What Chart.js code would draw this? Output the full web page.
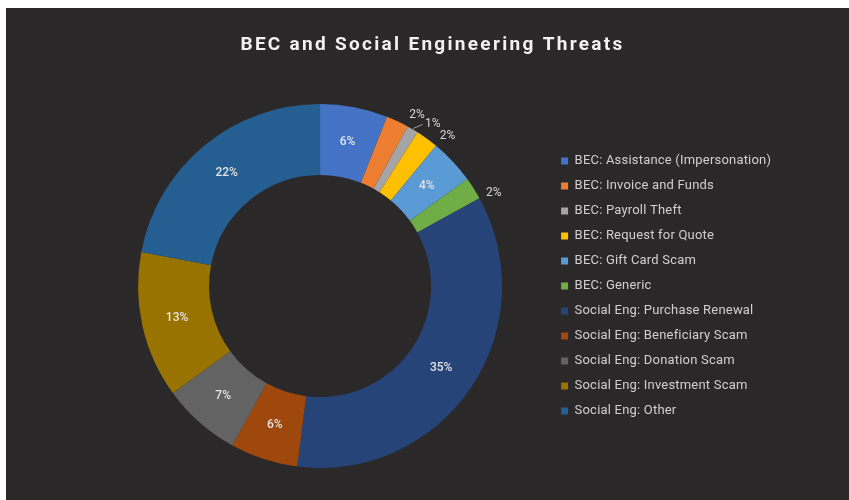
<!DOCTYPE html>
<html>
<head>
<meta charset="utf-8">
<title>BEC and Social Engineering Threats</title>
<script src="https://cdn.jsdelivr.net/npm/chart.js@4.4.0/dist/chart.umd.min.js"></script>
<style>
    body { margin: 0; background: #ffffff; }
    #painel {
        position: absolute;
        left: 6px;
        top: 8px;
        width: 843px;
        height: 492px;
        background: #2b2829;
    }
</style>
</head>
<body>
<div id="painel"><canvas id="graficoRosca"></canvas></div>
<script>
var titulo = 'BEC and Social Engineering Threats';
var categorias = [
    'BEC: Assistance (Impersonation)',
    'BEC: Invoice and Funds',
    'BEC: Payroll Theft',
    'BEC: Request for Quote',
    'BEC: Gift Card Scam',
    'BEC: Generic',
    'Social Eng: Purchase Renewal',
    'Social Eng: Beneficiary Scam',
    'Social Eng: Donation Scam',
    'Social Eng: Investment Scam',
    'Social Eng: Other'
];
var percentuais = [6, 2, 1, 2, 4, 2, 35, 6, 7, 13, 22];
var cores = [
    '#4472c4', '#ed7d31', '#a5a5a5', '#ffc000', '#5b9bd5', '#70ad47',
    '#264478', '#9e480e', '#636363', '#997300', '#255e91'
];

// rótulos de porcentagem: dentro das fatias grandes, fora das pequenas
var rotulosPlugin = {
    id: 'rotulos',
    beforeDraw: function(chart) {
        chart.ctx.letterSpacing = '0.2px';
    },
    afterDatasetsDraw: function(chart) {
        var ctx = chart.ctx;
        var meta = chart.getDatasetMeta(0);
        ctx.save();
        ctx.letterSpacing = '0px';
        ctx.textAlign = 'center';
        ctx.textBaseline = 'middle';
        meta.data.forEach(function(arco, i) {
            var p = arco.getProps(['x', 'y', 'startAngle', 'endAngle', 'innerRadius', 'outerRadius'], true);
            var meio = (p.startAngle + p.endAngle) / 2;
            var texto = percentuais[i] + '%';
            if (percentuais[i] > 2) {
                var r = (p.innerRadius + p.outerRadius) / 2;
                ctx.font = '500 12px Roboto, sans-serif';
                ctx.fillStyle = '#e4e4e4';
                ctx.fillText(texto, p.x + Math.cos(meio) * r, p.y + Math.sin(meio) * r);
            } else {
                var r2 = p.outerRadius + 15;
                var ang = meio + 0.075;
                var lx = p.x + Math.cos(ang) * r2;
                var ly = p.y + Math.sin(ang) * r2;
                if (percentuais[i] < 2) {
                    ctx.strokeStyle = '#a0a0a0';
                    ctx.lineWidth = 1;
                    ctx.beginPath();
                    ctx.moveTo(p.x + Math.cos(meio) * (p.outerRadius + 1), p.y + Math.sin(meio) * (p.outerRadius + 1));
                    ctx.lineTo(lx - 10, ly);
                    ctx.stroke();
                }
                ctx.font = '12px Roboto, sans-serif';
                ctx.fillStyle = '#d4d4d4';
                ctx.fillText(texto, lx, ly);
            }
        });
        ctx.restore();
    },
    afterDraw: function(chart) {
        // título com letras espaçadas
        var ctx = chart.ctx;
        ctx.save();
        ctx.letterSpacing = '2.3px';
        ctx.font = 'bold 19px Roboto, sans-serif';
        ctx.fillStyle = '#f2f2f2';
        ctx.textAlign = 'center';
        ctx.textBaseline = 'middle';
        ctx.fillText(titulo, chart.width / 2 + 5, 37);
        ctx.restore();
        ctx.letterSpacing = '0px';
    }
};

var ctx = document.getElementById('graficoRosca').getContext('2d');
var graficoRosca = new Chart(ctx, {
    type: 'doughnut',
    data: {
        labels: categorias,
        datasets: [{
            label: 'Threats',
            data: percentuais,
            backgroundColor: cores,
            borderWidth: 0
        }]
    },
    options: {
        responsive: true,
        maintainAspectRatio: false,
        animation: false,
        cutout: '61%',
        layout: {
            padding: { left: 85, right: 74, top: 96, bottom: 32 }
        },
        plugins: {
            title: { display: false },
            legend: {
                position: 'right',
                labels: {
                    color: '#d0d0d0',
                    font: { family: 'Roboto, sans-serif', size: 13 },
                    boxWidth: 7,
                    boxHeight: 7,
                    padding: 12
                }
            },
            tooltip: { enabled: false }
        }
    },
    plugins: [rotulosPlugin]
});
</script>
</body>
</html>
